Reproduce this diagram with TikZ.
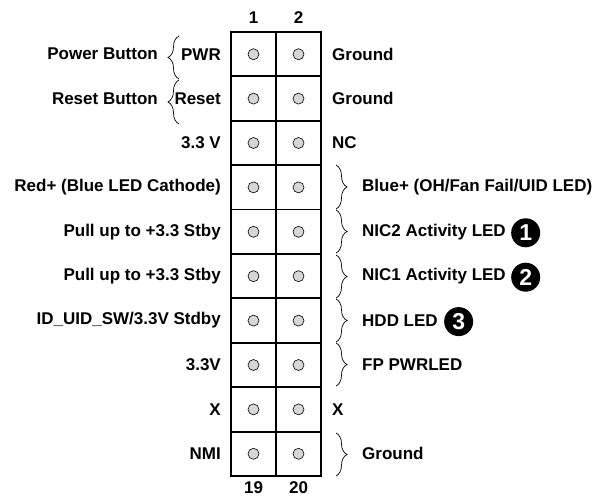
\documentclass[tikz,border=0pt]{standalone}
\usepackage{fontspec}
\setmainfont{Liberation Sans}
\usetikzlibrary{decorations.pathreplacing}
\definecolor{pingray}{HTML}{D6D6D6}
\tikzset{
  lbl/.style={font=\fontsize{17}{20}\selectfont\bfseries, inner sep=0pt},
  cell/.style={draw, line width=1.8pt, minimum width=45pt, minimum height=44.4pt, inner sep=0pt},
  pin/.style={circle, draw, line width=0.6pt, fill=pingray, minimum size=11pt, inner sep=0pt},
  badge/.style={circle, fill=black, text=white, minimum size=29pt, inner sep=0pt, anchor=west, font=\fontsize{23}{26}\selectfont\bfseries},
  brc/.style={decorate, decoration={brace, amplitude=11pt, aspect=0.5}, line width=0.7pt},
}
\begin{document}
\begin{tikzpicture}[x=1pt,y=-1pt]
\useasboundingbox (0,0) rectangle (600,497);
% cells and pins
\foreach \r in {1,...,10}{
  \pgfmathsetmacro\yc{32+44.4*(\r-0.5)}
  \pgfmathtruncatemacro\pa{2*\r-1}
  \pgfmathtruncatemacro\pb{2*\r}
  \node[cell] (c\pa) at (253.5,\yc) {};
  \node[cell] (c\pb) at (298.5,\yc) {};
  \node[pin] (p\pa) at (c\pa.center) {};
  \node[pin] (p\pb) at (c\pb.center) {};
}
% headers
\node[lbl] (h1) at (253.5,18) {1};
\node[lbl] (h2) at (298.5,18) {2};
\node[lbl] (h19) at (253.5,488) {19};
\node[lbl] (h20) at (298.5,488) {20};
% left labels
\node[lbl, anchor=east] (l1) at (221,54.2) {PWR};
\node[lbl, anchor=east] (l3) at (221,98.6) {Reset};
\node[lbl, anchor=east] (l5) at (221,143) {3.3 V};
\node[lbl, anchor=east] (l7) at (221,187.4) {Red+ (Blue LED Cathode)};
\node[lbl, anchor=east] (l9) at (221,231.8) {Pull up to +3.3 Stby};
\node[lbl, anchor=east] (l11) at (221,276.2) {Pull up to +3.3 Stby};
\node[lbl, anchor=east] (l13) at (221,320.6) {ID\_UID\_SW/3.3V Stdby};
\node[lbl, anchor=east] (l15) at (221,365) {3.3V};
\node[lbl, anchor=east] (l17) at (221,409.4) {X};
\node[lbl, anchor=east] (l19) at (221,453.8) {NMI};
\node[lbl, anchor=east] (pb) at (158,54.2) {Power Button};
\node[lbl, anchor=east] (rb) at (158,98.6) {Reset Button};
% left braces
\coordinate (lb1t) at (179,36); \coordinate (lb1b) at (179,79);
\coordinate (lb2t) at (179,80); \coordinate (lb2b) at (179,124);
\draw[brc] (lb1b) -- (lb1t);
\draw[brc] (lb2b) -- (lb2t);
% right plain labels
\node[lbl, anchor=west] (r2) at (332,54.2) {Ground};
\node[lbl, anchor=west] (r4) at (332,98.6) {Ground};
\node[lbl, anchor=west] (r6) at (332,143) {NC};
\node[lbl, anchor=west] (r18) at (332,409.4) {X};
% right braced labels
\node[lbl, anchor=west] (r8) at (362,187.4) {Blue+ (OH/Fan Fail/UID LED)};
\node[lbl, anchor=west] (r10) at (362,231.8) {NIC2 Activity LED};
\node[lbl, anchor=west] (r12) at (362,276.2) {NIC1 Activity LED};
\node[lbl, anchor=west] (r14) at (362,320.6) {HDD LED};
\node[lbl, anchor=west] (r16) at (362,365) {FP PWRLED};
\node[lbl, anchor=west] (r20) at (362,453.8) {Ground};
\foreach \t/\b [count=\i] in {165/209, 210/253, 255/298, 299/342, 343/386, 433/476}{
  \coordinate (rbt\i) at (336,\t);
  \coordinate (rbb\i) at (336,\b);
  \draw[brc] (rbt\i) -- (rbb\i);
}
% badges
\node[badge] (b1) at ([xshift=5pt,yshift=-1pt]r10.east) {1};
\node[badge] (b2) at ([xshift=5pt,yshift=-1pt]r12.east) {2};
\node[badge] (b3) at ([xshift=6pt,yshift=-1pt]r14.east) {3};
\end{tikzpicture}
\end{document}
